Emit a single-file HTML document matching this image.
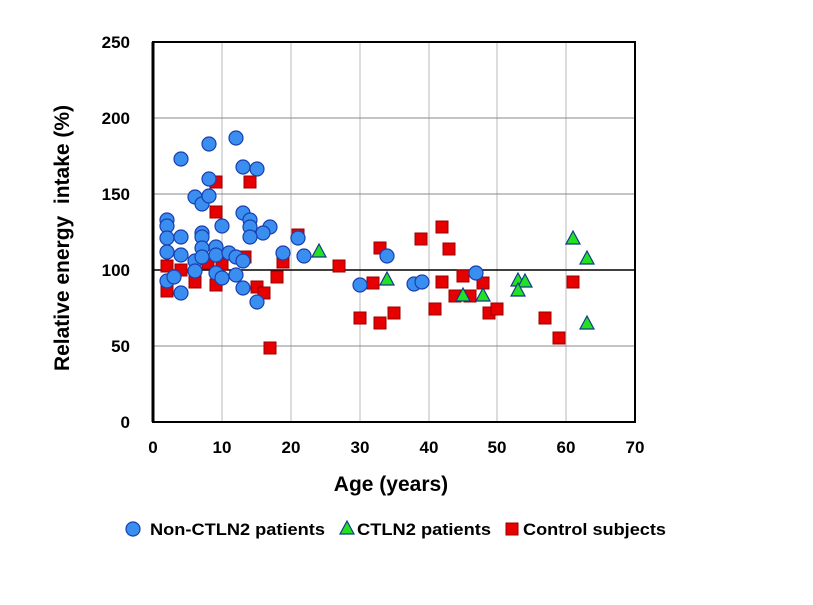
<!DOCTYPE html>
<html><head><style>body{margin:0;background:#fff}</style></head><body>
<svg width="813" height="600" xmlns="http://www.w3.org/2000/svg" font-family="Liberation Sans, sans-serif" font-weight="bold">
<rect width="813" height="600" fill="#fff"/>
<g stroke="#d0d0d0" stroke-width="1.5">
<line x1="222" y1="42" x2="222" y2="422"/><line x1="291" y1="42" x2="291" y2="422"/><line x1="360" y1="42" x2="360" y2="422"/><line x1="429" y1="42" x2="429" y2="422"/><line x1="497" y1="42" x2="497" y2="422"/><line x1="566" y1="42" x2="566" y2="422"/>
</g>
<g stroke="#888" stroke-width="1">
<line x1="153" y1="346" x2="635" y2="346"/><line x1="153" y1="194" x2="635" y2="194"/><line x1="153" y1="118" x2="635" y2="118"/>
</g>
<line x1="153" y1="270" x2="635" y2="270" stroke="#000" stroke-width="1.5"/>
<rect x="153" y="42" width="482" height="380" fill="none" stroke="#000" stroke-width="2"/>
<line x1="153" y1="42" x2="153" y2="422" stroke="#000" stroke-width="3"/>
<g font-size="17" text-anchor="end">
<text x="130" y="428">0</text><text x="130" y="352">50</text><text x="130" y="276">100</text><text x="130" y="200">150</text><text x="130" y="124">200</text><text x="130" y="48">250</text>
</g>
<g font-size="17" text-anchor="middle">
<text x="153" y="453">0</text><text x="222" y="453">10</text><text x="291" y="453">20</text><text x="360" y="453">30</text><text x="429" y="453">40</text><text x="497" y="453">50</text><text x="566" y="453">60</text><text x="635" y="453">70</text>
</g>
<text x="391" y="491" font-size="21" text-anchor="middle">Age (years)</text>
<text transform="translate(69,238) rotate(-90)" font-size="21" text-anchor="middle">Relative energy&#160; intake (%)</text>
<g fill="#e60000" stroke="#900" stroke-width="1" id="sq"></g>
<g fill="#3a8ef0" stroke="#1a3fb0" stroke-width="1.2" id="ci"></g>
<g fill="#22e022" stroke="#123a8a" stroke-width="1.2" id="tr"></g>
<circle cx="133" cy="529" r="7" fill="#3a8ef0" stroke="#1a3fb0" stroke-width="1.2"/>
<text x="150" y="535" font-size="17" textLength="175" lengthAdjust="spacingAndGlyphs">Non-CTLN2 patients</text>
<path d="M347,521 l7,13 h-14z" fill="#22e022" stroke="#123a8a" stroke-width="1.2"/>
<text x="357" y="535" font-size="17" textLength="134" lengthAdjust="spacingAndGlyphs">CTLN2 patients</text>
<rect x="506" y="523" width="12" height="12" fill="#e60000" stroke="#900"/>
<text x="523" y="535" font-size="17" textLength="143" lengthAdjust="spacingAndGlyphs">Control subjects</text>
<script>
var ns="http://www.w3.org/2000/svg";
var sq=[[216,182],[250,182],[216,212],[167,266],[181,270],[195,282],[167,291],[208,263],[222,264],[245,257],[216,285],[257,287],[264,293],[277,277],[283,262],[270,348],[298,235],[339,266],[380,248],[421,239],[442,227],[449,249],[373,283],[360,318],[380,323],[394,313],[435,309],[442,282],[463,276],[483,283],[455,296],[470,296],[489,313],[497,309],[545,318],[559,338],[573,282]];
var ci=[[181,159],[209,144],[236,138],[243,167],[257,169],[209,179],[195,197],[202,204],[209,196],[243,213],[250,220],[250,227],[270,227],[263,233],[250,237],[222,226],[167,220],[167,226],[167,238],[181,237],[202,233],[202,237],[167,252],[181,255],[202,248],[195,261],[202,257],[216,247],[216,255],[229,253],[236,257],[243,261],[195,271],[167,281],[174,277],[181,293],[216,273],[222,278],[236,275],[243,288],[257,302],[283,253],[298,238],[304,256],[387,256],[360,285],[414,284],[422,282],[476,273]];
var tr=[[319,252],[387,280],[463,296],[483,296],[518,281],[525,282],[518,291],[573,239],[587,259],[587,324]];
sq.forEach(function(p){var e=document.createElementNS(ns,"rect");e.setAttribute("x",p[0]-6);e.setAttribute("y",p[1]-6);e.setAttribute("width",12);e.setAttribute("height",12);document.getElementById("sq").appendChild(e);});
ci.forEach(function(p){var e=document.createElementNS(ns,"circle");e.setAttribute("cx",p[0]);e.setAttribute("cy",p[1]);e.setAttribute("r",7);document.getElementById("ci").appendChild(e);});
tr.forEach(function(p){var e=document.createElementNS(ns,"path");e.setAttribute("d","M"+p[0]+","+(p[1]-8)+" l7,13 h-14z");document.getElementById("tr").appendChild(e);});
</script>
</svg>
</body></html>
